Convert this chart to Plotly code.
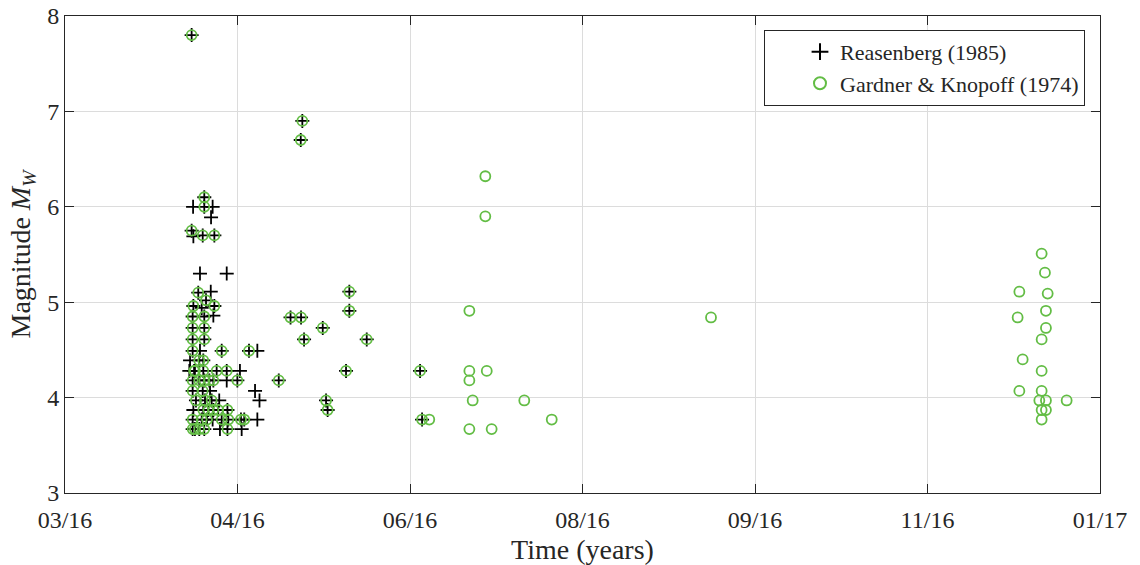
import plotly.graph_objects as go

# Events flagged as aftershocks by both declustering methods
both_time = [
    "2016-04-16 17:00", "2016-04-20 09:00", "2016-04-20 09:00", "2016-04-16 17:00",
    "2016-04-19 22:00", "2016-04-23 07:00", "2016-04-18 15:00", "2016-04-20 21:00",
    "2016-04-23 07:00", "2016-04-17 05:00", "2016-04-17 00:00", "2016-04-20 09:00",
    "2016-04-17 00:00", "2016-04-20 09:00", "2016-04-17 00:00", "2016-04-20 09:00",
    "2016-04-17 00:00", "2016-04-25 10:00", "2016-05-03 08:00", "2016-04-18 22:00",
    "2016-04-20 02:00", "2016-04-17 16:00", "2016-04-17 10:00", "2016-04-20 02:00",
    "2016-04-23 23:00", "2016-04-26 21:00", "2016-04-17 00:00", "2016-04-18 22:00",
    "2016-04-20 09:00", "2016-04-21 20:00", "2016-04-23 00:00", "2016-04-29 23:00",
    "2016-05-11 23:00", "2016-04-17 00:00", "2016-04-19 22:00", "2016-04-17 23:00",
    "2016-04-20 14:00", "2016-04-22 12:00", "2016-04-20 02:00", "2016-04-21 13:00",
    "2016-04-23 00:00", "2016-04-24 10:00", "2016-04-27 02:00", "2016-04-17 00:00",
    "2016-04-19 15:00", "2016-04-21 04:00", "2016-04-25 10:00", "2016-04-27 08:00",
    "2016-05-01 00:00", "2016-05-01 23:00", "2016-04-17 00:00", "2016-04-18 22:00",
    "2016-04-20 09:00", "2016-04-27 02:00", "2016-04-17 16:00",
    "2016-05-18 19:00", "2016-05-18 08:00", "2016-06-01 10:00", "2016-05-15 09:00",
    "2016-05-18 10:00", "2016-06-01 10:00", "2016-05-24 17:00", "2016-05-19 07:00",
    "2016-06-06 11:00", "2016-05-31 11:00", "2016-05-25 16:00", "2016-05-26 03:00",
    "2016-06-21 22:00", "2016-06-22 12:00",
]
both_mag = [
    7.80, 6.10, 6.00, 5.75,
    5.70, 5.70, 5.10, 5.02,
    4.96, 4.96, 4.85, 4.85,
    4.73, 4.73, 4.61, 4.61,
    4.49, 4.49, 4.49, 4.39,
    4.39, 4.28, 4.28, 4.28,
    4.28, 4.28, 4.18, 4.18,
    4.18, 4.18, 4.18, 4.18,
    4.18, 4.07, 4.07, 3.97,
    3.97, 3.97, 3.87, 3.87,
    3.87, 3.87, 3.87, 3.77,
    3.77, 3.77, 3.77, 3.77,
    3.77, 3.77, 3.67, 3.67,
    3.67, 3.67, 3.67,
    6.90, 6.70, 5.11, 4.84,
    4.84, 4.91, 4.73, 4.61,
    4.61, 4.28, 3.97, 3.87,
    4.28, 3.77,
]

# Events flagged only by Reasenberg (1985)
rb_only_time = [
    "2016-04-17 03:00", "2016-04-22 19:00", "2016-04-22 08:00", "2016-04-17 05:00",
    "2016-04-19 03:00", "2016-04-26 21:00", "2016-04-22 06:00", "2016-04-19 15:00",
    "2016-04-23 00:00", "2016-04-19 03:00", "2016-04-16 06:00", "2016-04-16 01:00",
    "2016-04-30 17:00", "2016-04-26 21:00", "2016-04-22 01:00", "2016-05-05 02:00",
    "2016-04-24 17:00", "2016-05-06 09:00", "2016-04-17 05:00", "2016-04-22 19:00",
    "2016-05-05 18:00", "2016-04-24 22:00", "2016-05-01 05:00", "2016-05-05 18:00",
]
rb_only_mag = [
    6.00, 6.00, 5.89, 5.69,
    5.30, 5.30, 5.11, 4.94,
    4.86, 4.49, 4.39, 4.28,
    4.28, 4.18, 4.07, 4.07,
    3.97, 3.97, 3.87, 3.77,
    3.77, 3.67, 3.67, 4.49,
]

# Events flagged only by Gardner & Knopoff (1974)
gk_only_time = [
    "2016-06-24 14:00", "2016-07-06 05:00", "2016-07-10 20:00", "2016-07-10 20:00",
    "2016-07-06 05:00", "2016-07-11 06:00", "2016-07-06 05:00", "2016-07-07 04:00",
    "2016-07-22 03:00", "2016-07-30 02:00", "2016-07-06 05:00", "2016-07-12 16:00",
    "2016-09-14 06:00",
    "2016-12-19 02:00", "2016-12-20 01:00", "2016-12-12 15:00", "2016-12-20 20:00",
    "2016-12-20 08:00", "2016-12-12 03:00", "2016-12-20 08:00", "2016-12-19 02:00",
    "2016-12-13 14:00", "2016-12-19 02:00", "2016-12-12 15:00", "2016-12-19 02:00",
    "2016-12-18 10:00", "2016-12-20 08:00", "2016-12-26 08:00", "2016-12-19 02:00",
    "2016-12-20 08:00", "2016-12-19 02:00",
]
gk_only_mag = [
    3.77, 4.91, 6.32, 5.90,
    4.28, 4.28, 4.18, 3.97,
    3.97, 3.77, 3.67, 3.67,
    4.84,
    5.51, 5.31, 5.11, 5.09,
    4.91, 4.84, 4.73, 4.61,
    4.40, 4.28, 4.07, 4.07,
    3.97, 3.97, 3.97, 3.87,
    3.87, 3.77,
]

# Time axis ticks every 50 days, labelled month/year
tick_dates = ["2016-03-11", "2016-04-30", "2016-06-19", "2016-08-08",
              "2016-09-27", "2016-11-16", "2017-01-05"]
tick_labels = ["03/16", "04/16", "06/16", "08/16", "09/16", "11/16", "01/17"]
mag_ticks = [3, 4, 5, 6, 7, 8]

rb_time = both_time + rb_only_time
rb_mag = both_mag + rb_only_mag
gk_time = both_time + gk_only_time
gk_mag = both_mag + gk_only_mag

GREEN = "#63bd45"
FONT = "Liberation Serif"
AXIS_COLOR = "#262626"

fig = go.Figure()
fig.add_trace(go.Scatter(
    x=rb_time, y=rb_mag, mode="markers", name="Reasenberg (1985)",
    marker=dict(symbol="cross-thin", size=10, color="black",
                line=dict(color="black", width=1.8)),
))
fig.add_trace(go.Scatter(
    x=gk_time, y=gk_mag, mode="markers", name="Gardner & Knopoff (1974)",
    marker=dict(symbol="circle-open", size=10, color=GREEN,
                line=dict(color=GREEN, width=1.8)),
))

axis_common = dict(
    showline=True, linecolor=AXIS_COLOR, linewidth=1, mirror="ticks",
    ticks="inside", ticklen=9, tickcolor=AXIS_COLOR, tickwidth=1,
    showgrid=True, gridcolor="#dcdcdc", gridwidth=1,
    zeroline=False, automargin=False,
    tickfont=dict(family=FONT, size=24, color=AXIS_COLOR),
)

fig.update_layout(
    width=1140, height=565,
    margin=dict(l=65, r=40, t=16, b=72),
    paper_bgcolor="white", plot_bgcolor="white",
    font=dict(family=FONT, color=AXIS_COLOR),
    showlegend=True,
    legend=dict(
        x=0.9855, y=0.971, xanchor="right", yanchor="top",
        bgcolor="white", bordercolor=AXIS_COLOR, borderwidth=1,
        font=dict(family=FONT, size=22, color=AXIS_COLOR),
        tracegroupgap=0, itemsizing="constant", indentation=35,
    ),
    xaxis=dict(
        type="date", range=[tick_dates[0], tick_dates[-1]],
        tickmode="array", tickvals=tick_dates, ticktext=tick_labels,
        ticklabelstandoff=5,
        title=dict(text="Time (years)", font=dict(family=FONT, size=28), standoff=8),
        **axis_common,
    ),
    yaxis=dict(
        range=[3, 8], tickmode="array", tickvals=mag_ticks,
        ticktext=[str(v) for v in mag_ticks],
        title=dict(text="Magnitude <i>M</i><sub><i>W</i></sub>",
                   font=dict(family=FONT, size=28), standoff=8),
        **axis_common,
    ),
)

fig.write_html("out.html")
